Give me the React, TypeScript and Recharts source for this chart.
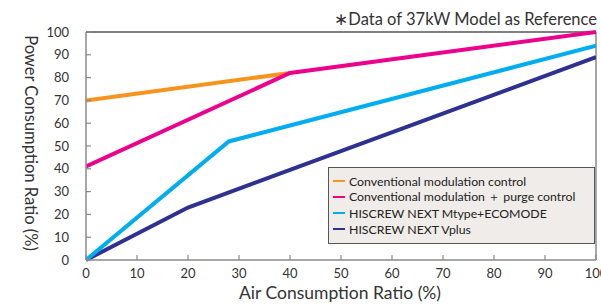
import { LineChart, Line, XAxis, YAxis, ReferenceLine } from 'recharts';

document.body.style.margin = '0';

// ─── Data ─────────────────────────────────────────────────────────────────────

const X_TICKS = [0, 10, 20, 30, 40, 50, 60, 70, 80, 90, 100];
const Y_TICKS = [0, 10, 20, 30, 40, 50, 60, 70, 80, 90, 100];

const conventionalX = [0, 40];
const conventionalY = [70, 82];

const purgeX = [0, 40, 100];
const purgeY = [41, 82, 100];

const mtypeX = [0, 28, 100];
const mtypeY = [0, 52, 94];

const vplusX = [0, 20, 100];
const vplusY = [0, 23, 89];

const SERIES = [
  { key: 'conv', name: 'Conventional modulation control', color: '#f7941d' },
  { key: 'purge', name: 'Conventional modulation ＋ purge control', color: '#ec008c' },
  { key: 'mtype', name: 'HISCREW NEXT Mtype+ECOMODE', color: '#00aeef' },
  { key: 'vplus', name: 'HISCREW NEXT Vplus', color: '#2e3192' },
];

const toPoints = (xs: number[], ys: number[]) => xs.map((x, i) => ({ x, y: ys[i] }));

const FONT = 'Lato, "Noto Sans", sans-serif';
const AXIS_GRAY = '#8a8a8a';
const TEXT = '#333';

// ─── Ticks (drawn pointing into the plot) ─────────────────────────────────────

function YTick({ x, y, payload }: any) {
  return (
    <g>
      <line x1={x + 17} x2={x + 22} y1={y} y2={y} stroke={AXIS_GRAY} strokeWidth={1.2} />
      <text x={x} y={y} dy={4.5} textAnchor="end" fontSize={13} fill={TEXT} fontFamily={FONT}>
        {payload.value}
      </text>
    </g>
  );
}

function XTick({ x, y, payload }: any) {
  return (
    <g>
      <line x1={x} x2={x} y1={y - 13} y2={y - 18} stroke={AXIS_GRAY} strokeWidth={1.2} />
      <text x={x} y={y} dy={4.5} textAnchor="middle" fontSize={13} fill={TEXT} fontFamily={FONT}>
        {payload.value}
      </text>
    </g>
  );
}

// ─── Legend ───────────────────────────────────────────────────────────────────

function LegendBox() {
  return (
    <div
      style={{
        position: 'absolute',
        left: 328,
        top: 167,
        width: 267,
        height: 77,
        boxSizing: 'border-box',
        background: '#efece9',
        border: '1px solid #555',
        padding: '5px 0 0 4px',
        fontFamily: FONT,
        fontSize: 12.3,
        color: '#222',
      }}
    >
      {SERIES.map((s) => (
        <div key={s.key} style={{ display: 'flex', alignItems: 'center', height: 16 }}>
          <span style={{ width: 12, height: 2, background: s.color, marginRight: 4 }} />
          <span>{s.name}</span>
        </div>
      ))}
    </div>
  );
}

// ─── Chart ────────────────────────────────────────────────────────────────────

export default function App() {
  return (
    <div style={{ position: 'relative', width: 601, height: 306, background: '#fff' }}>
      <LineChart width={601} height={306} margin={{ top: 32, right: 5, bottom: 16, left: 46 }}>
        <XAxis
          dataKey="x"
          type="number"
          domain={[0, 100]}
          ticks={X_TICKS}
          allowDataOverflow
          axisLine={{ stroke: AXIS_GRAY, strokeWidth: 1.5 }}
          tickLine={false}
          tickSize={0}
          tickMargin={13}
          tick={<XTick />}
          height={30}
          interval={0}
        />
        <YAxis
          type="number"
          domain={[0, 100]}
          ticks={Y_TICKS}
          axisLine={{ stroke: AXIS_GRAY, strokeWidth: 1.5 }}
          tickLine={false}
          tickSize={0}
          tickMargin={17}
          tick={<YTick />}
          width={40}
          interval={0}
        />
        <ReferenceLine y={100} stroke="#000" strokeWidth={1.2} />
        <ReferenceLine x={100} stroke={AXIS_GRAY} strokeWidth={1.5} />

        <Line data={toPoints(conventionalX, conventionalY)} dataKey="y" type="linear" stroke="#f7941d"
          strokeWidth={4} dot={false} isAnimationActive={false} />
        <Line data={toPoints(vplusX, vplusY)} dataKey="y" type="linear" stroke="#2e3192"
          strokeWidth={4} dot={false} isAnimationActive={false} />
        <Line data={toPoints(mtypeX, mtypeY)} dataKey="y" type="linear" stroke="#00aeef"
          strokeWidth={4} dot={false} isAnimationActive={false} />
        <Line data={toPoints(purgeX, purgeY)} dataKey="y" type="linear" stroke="#ec008c"
          strokeWidth={4} dot={false} isAnimationActive={false} />

        <text x={597} y={25} textAnchor="end" fontSize={16.5} fill={TEXT} fontFamily={FONT}>
          ∗Data of 37kW Model as Reference
        </text>
        <text x={340} y={299} textAnchor="middle" fontSize={17.5} fill={TEXT} fontFamily={FONT}>
          Air Consumption Ratio (%)
        </text>
        <text
          x={30}
          y={143}
          textAnchor="middle"
          fontSize={16.5}
          fill={TEXT}
          fontFamily={FONT}
          transform="rotate(90 30 143)"
          dy={5}
        >
          Power Consumption Ratio (%)
        </text>
      </LineChart>
      <LegendBox />
    </div>
  );
}
